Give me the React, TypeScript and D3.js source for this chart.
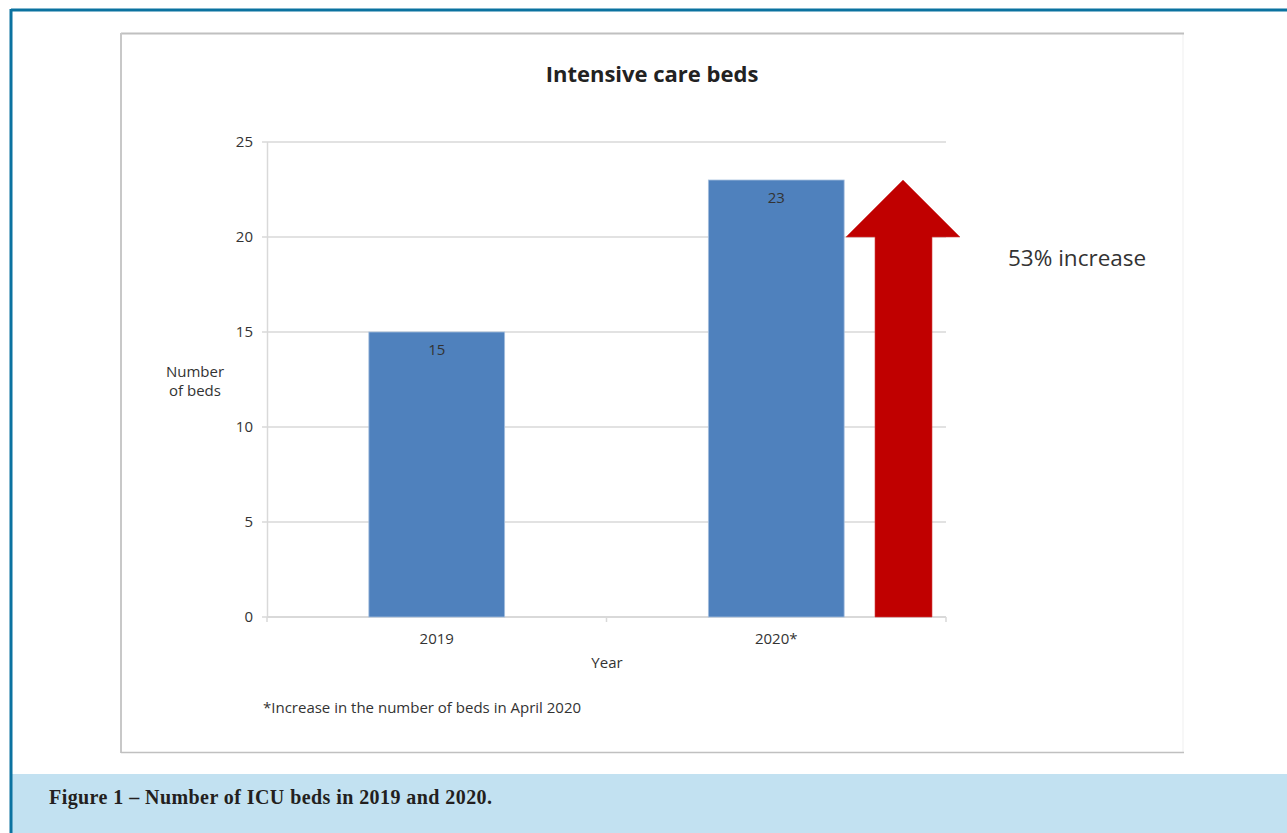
import React from "react";
import * as d3 from "d3";

const categories = ["2019", "2020*"];
const beds = [15, 23];
const yTicks = [0, 5, 10, 15, 20, 25];
const arrowValues = { tip: 23, headBase: 20, base: 0 };
const title = "Intensive care beds";
const yAxisLabel = ["Number", "of beds"];
const xAxisLabel = "Year";
const annotation = "53% increase";
const footnote = "*Increase in the number of beds in April 2020";
const caption = "Figure 1 \u2013 Number of ICU beds in 2019 and 2020.";

const W = 1287;
const H = 833;
const FONT = "'Open Sans', 'Noto Sans', sans-serif";
const FS = 15;

export default function App() {
  const plot = { left: 267, right: 946, top: 142, bottom: 617 };
  const x = d3.scaleBand<string>().domain(categories).range([plot.left, plot.right]).paddingInner(0.6).paddingOuter(0.3);
  const xOuter = d3.scaleBand<string>().domain(categories).range([plot.left, plot.right]);
  const y = d3.scaleLinear().domain([0, 25]).range([plot.bottom, plot.top]);

  // arrow geometry
  const shaftL = 875, shaftR = 932, headL = 846, headR = 960;
  const tipX = (headL + headR) / 2;
  const arrowPath = d3.path();
  arrowPath.moveTo(shaftL, y(arrowValues.base));
  arrowPath.lineTo(shaftL, y(arrowValues.headBase));
  arrowPath.lineTo(headL, y(arrowValues.headBase));
  arrowPath.lineTo(tipX, y(arrowValues.tip));
  arrowPath.lineTo(headR, y(arrowValues.headBase));
  arrowPath.lineTo(shaftR, y(arrowValues.headBase));
  arrowPath.lineTo(shaftR, y(arrowValues.base));
  arrowPath.closePath();

  return (
    <svg width={W} height={H} style={{ position: "absolute", left: 0, top: 0, background: "#fff" }}>
      {/* outer figure border */}
      <rect x={0} y={0} width={W} height={H} fill="#fff" />
      <rect x={12} y={774} width={W - 12} height={H - 774} fill="#c2e1f1" />
      <line x1={11} y1={10} x2={W} y2={10} stroke="#0b72a0" strokeWidth={3} />
      <line x1={11} y1={9} x2={11} y2={H} stroke="#0b72a0" strokeWidth={3} />
      <text
        x={49}
        y={804}
        fontFamily="'Liberation Serif', 'DejaVu Serif', serif"
        fontWeight="bold"
        fontSize={20}
        fill="#231f20"
        textLength={443}
        lengthAdjust="spacing"
      >
        {caption}
      </text>

      {/* chart frame */}
      <line x1={1183} y1={33} x2={1183} y2={753} stroke="#efefef" strokeWidth={1} />
      <line x1={121} y1={33.5} x2={1184} y2={33.5} stroke="#c0c0c0" strokeWidth={2} />
      <line x1={121} y1={33} x2={121} y2={753} stroke="#c8c8c8" strokeWidth={2} />
      <line x1={121} y1={752.5} x2={1184} y2={752.5} stroke="#c0c0c0" strokeWidth={1.5} />

      <text x={652} y={82} textAnchor="middle" fontFamily={FONT} fontWeight="bold" fontSize={22} fill="#222">
        {title}
      </text>

      {/* gridlines and y ticks */}
      {yTicks.map((t) => (
        <g key={t}>
          <line x1={plot.left - 5} x2={plot.right} y1={y(t)} y2={y(t)} stroke="#d9d9d9" strokeWidth={1.5} />
          <text x={253} y={y(t) + 5} textAnchor="end" fontFamily={FONT} fontSize={FS} fill="#333">
            {t}
          </text>
        </g>
      ))}
      {/* y axis line */}
      <line x1={plot.left + 0.5} x2={plot.left + 0.5} y1={plot.top} y2={plot.bottom} stroke="#d9d9d9" strokeWidth={1.5} />
      {/* x axis line and ticks */}
      <line x1={plot.left} x2={plot.right} y1={plot.bottom} y2={plot.bottom} stroke="#d9d9d9" strokeWidth={2} />
      {[...categories.map((c) => xOuter(c) as number), plot.right].map((v, i) => (
        <line key={i} x1={v} x2={v} y1={plot.bottom} y2={plot.bottom + 5} stroke="#d9d9d9" strokeWidth={1.5} />
      ))}

      {/* bars */}
      {categories.map((c, i) => (
        <g key={c}>
          <rect
            x={x(c)}
            y={y(beds[i])}
            width={x.bandwidth()}
            height={y(0) - y(beds[i])}
            fill="#4f81bd"
            stroke="#a7c0de"
            strokeWidth={0.8}
          />
          <text
            x={(x(c) as number) + x.bandwidth() / 2}
            y={y(beds[i]) + 23}
            textAnchor="middle"
            fontFamily={FONT}
            fontSize={FS}
            fill="#333"
          >
            {beds[i]}
          </text>
          <text
            x={(xOuter(c) as number) + xOuter.bandwidth() / 2}
            y={644}
            textAnchor="middle"
            fontFamily={FONT}
            fontSize={FS}
            fill="#333"
          >
            {c}
          </text>
        </g>
      ))}

      {/* arrow */}
      <path d={arrowPath.toString()} fill="#c00000" stroke="#d04040" strokeWidth={0.6} />
      <text x={1008} y={266} fontFamily={FONT} fontSize={22.5} fill="#333">
        {annotation}
      </text>

      {/* axis titles */}
      {yAxisLabel.map((l, i) => (
        <text key={l} x={195} y={377 + i * 19} textAnchor="middle" fontFamily={FONT} fontSize={FS} fill="#333">
          {l}
        </text>
      ))}
      <text x={607} y={668} textAnchor="middle" fontFamily={FONT} fontSize={FS} fill="#333">
        {xAxisLabel}
      </text>
      <text x={263} y={713} fontFamily={FONT} fontSize={FS} fill="#333">
        {footnote}
      </text>
    </svg>
  );
}
